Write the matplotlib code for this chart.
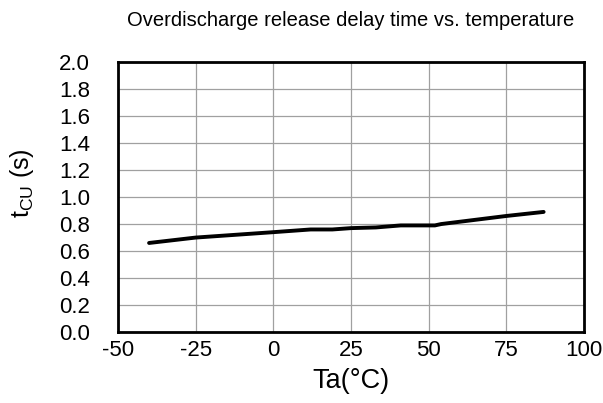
import matplotlib
matplotlib.use('Agg')
import matplotlib.pyplot as plt

plt.rcParams['font.family'] = ['Liberation Sans', 'DejaVu Sans']
plt.rcParams['mathtext.fontset'] = 'custom'
plt.rcParams['mathtext.rm'] = 'Liberation Sans'

# ── Data ──────────────────────────────────────────────────────────────
temp_c = [-40, -25, 0, 12, 19, 25, 33, 41, 52, 54, 75, 87]
delay_s = [0.66, 0.70, 0.74, 0.76, 0.76, 0.77, 0.775, 0.79, 0.79, 0.80, 0.86, 0.89]

x_ticks = [-50, -25, 0, 25, 50, 75, 100]
y_ticks = [0.0, 0.2, 0.4, 0.6, 0.8, 1.0, 1.2, 1.4, 1.6, 1.8, 2.0]

fig = plt.figure(figsize=(6.03, 4.03), dpi=100)
ax = fig.add_axes([0.1957, 0.176, 0.7728, 0.670])

ax.plot(temp_c, delay_s, color='black', linewidth=2.8, solid_capstyle='round')

ax.set_xlim(-50, 100)
ax.set_ylim(0, 2.0)
ax.set_xticks(x_ticks)
ax.set_yticks(y_ticks)
ax.set_xticklabels([str(t) for t in x_ticks], fontsize=16)
ax.set_yticklabels([f'{t:.1f}' for t in y_ticks], fontsize=16)
ax.tick_params(axis='x', length=0, pad=6)
ax.tick_params(axis='y', length=0, pad=20)

ax.grid(True, color='#a0a0a0', linewidth=0.9)
ax.set_axisbelow(True)
for sp in ax.spines.values():
    sp.set_linewidth(2.0)
    sp.set_color('black')

ax.set_xlabel('Ta(°C)', fontsize=19.5, labelpad=5)
ax.set_ylabel(r'$\mathregular{t_{CU}}$ (s)', fontsize=18)
ax.yaxis.set_label_coords(-0.176, 0.55)
ax.set_title('Overdischarge release delay time vs. temperature',
             fontsize=14.5, pad=26)

fig.savefig('out.png', dpi=100)
